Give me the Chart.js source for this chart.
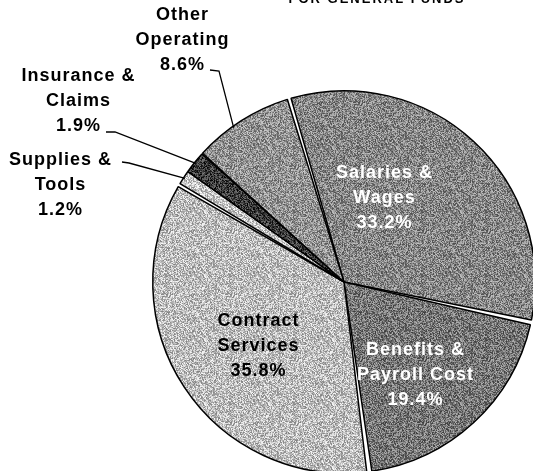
<!DOCTYPE html>
<html>
<head>
<meta charset="utf-8">
<title>expenditures</title>
<script src="https://cdn.jsdelivr.net/npm/chart.js@4"></script>
<style>
  html, body { margin: 0; padding: 0; background: #fff; overflow: hidden; width: 533px; height: 471px; }
  #wrap { position: absolute; left: 0; top: 0; width: 560px; height: 500px; }
</style>
</head>
<body>
<div id="wrap"><canvas id="pie" width="560" height="500"></canvas></div>

<script>
  // slice names (one entry per text line) and shares in %
  var categories = [
    ['Salaries &', 'Wages'],
    ['Benefits &', 'Payroll Cost'],
    ['Contract', 'Services'],
    ['Supplies &', 'Tools'],
    ['Insurance &', 'Claims'],
    ['Other', 'Operating']
  ];
  var shares = [33.2, 19.4, 35.8, 1.2, 1.9, 8.6];
  var title = 'FOR GENERAL FUNDS';

  // looks
  var fills = ['#878787', '#777777', '#bdbdbd', '#c6c6c6', '#3c3c3c', '#939393'];
  var textColors = ['#fff', '#fff', '#000', '#000', '#000', '#000'];
  // centre of each label block, relative to the pie centre
  var labelAt = [[40, -84], [71, 93], [-86, 64], [-284, -97], [-266, -181], [-162, -242]];
  // leader lines for the small slices: start + elbow relative to pie centre
  var leaders = [null, null, null,
    { from: [-222, -120], elbow: [-215, -119], frac: 0.5 },
    { from: [-238, -150], elbow: [-229, -150], frac: 0.5 },
    { from: [-134, -212], elbow: [-125, -211], frac: 0.4 }
  ];
  var lineGap = 25;

  // grainy grey fill, like the scanned original (fixed seed, same every run)
  function grain(hex) {
    var c = document.createElement('canvas');
    c.width = 64; c.height = 64;
    var g = c.getContext('2d');
    var img = g.createImageData(64, 64);
    var base = parseInt(hex.slice(1, 3), 16);
    var seed = 7919;
    for (var p = 0; p < 64 * 64; p++) {
      seed = (seed * 1103515245 + 12345) & 0x7fffffff;
      var v = base + ((seed / 0x7fffffff) - 0.5) * 120;
      v = Math.max(0, Math.min(255, v));
      img.data[p * 4] = img.data[p * 4 + 1] = img.data[p * 4 + 2] = v;
      img.data[p * 4 + 3] = 255;
    }
    g.putImageData(img, 0, 0);
    return g.createPattern(c, 'repeat');
  }

  var sliceLabels = {
    id: 'sliceLabels',
    afterDatasetsDraw: function (chart) {
      var ctx = chart.ctx;
      var arcs = chart.getDatasetMeta(0).data;
      ctx.save();
      ctx.font = 'bold 18px "Liberation Sans", Arial, sans-serif';
      ctx.letterSpacing = '1px';
      ctx.textAlign = 'center';
      ctx.textBaseline = 'middle';
      ctx.strokeStyle = '#000';
      ctx.lineWidth = 1.3;
      arcs.forEach(function (arc, i) {
        var lines = categories[i].concat([shares[i].toFixed(1) + '%']);
        var cx = arc.x + labelAt[i][0] + 0.5, cy = arc.y + labelAt[i][1];
        ctx.fillStyle = textColors[i];
        lines.forEach(function (t, k) {
          ctx.fillText(t, cx, cy + (k - 1) * lineGap);
        });
        var L = leaders[i];
        if (L) {
          var a = arc.startAngle + L.frac * (arc.endAngle - arc.startAngle);
          ctx.beginPath();
          ctx.moveTo(arc.x + L.from[0], arc.y + L.from[1]);
          ctx.lineTo(arc.x + L.elbow[0], arc.y + L.elbow[1]);
          ctx.lineTo(arc.x + arc.outerRadius * Math.cos(a), arc.y + arc.outerRadius * Math.sin(a));
          ctx.stroke();
        }
      });
      // title, mostly cut off by the top edge
      ctx.font = 'bold 13px "Liberation Sans", Arial, sans-serif';
      ctx.letterSpacing = '2px';
      ctx.textBaseline = 'alphabetic';
      ctx.fillStyle = '#000';
      ctx.fillText(title, 377, 3);
      ctx.restore();
    }
  };

  var ctx1 = document.getElementById('pie');
  var pie = new Chart(ctx1, {
    type: 'pie',
    data: {
      labels: categories,
      datasets: [{
        data: shares,
        backgroundColor: fills.map(grain),
        borderColor: '#000',
        borderWidth: 1.5,
        spacing: 3
      }]
    },
    options: {
      responsive: false,
      animation: false,
      rotation: -17,
      layout: { padding: { left: 152, top: 90, right: 24, bottom: 26 } },
      plugins: {
        legend: { display: false },
        tooltip: { enabled: false }
      }
    },
    plugins: [sliceLabels]
  });
</script>
</body>
</html>
